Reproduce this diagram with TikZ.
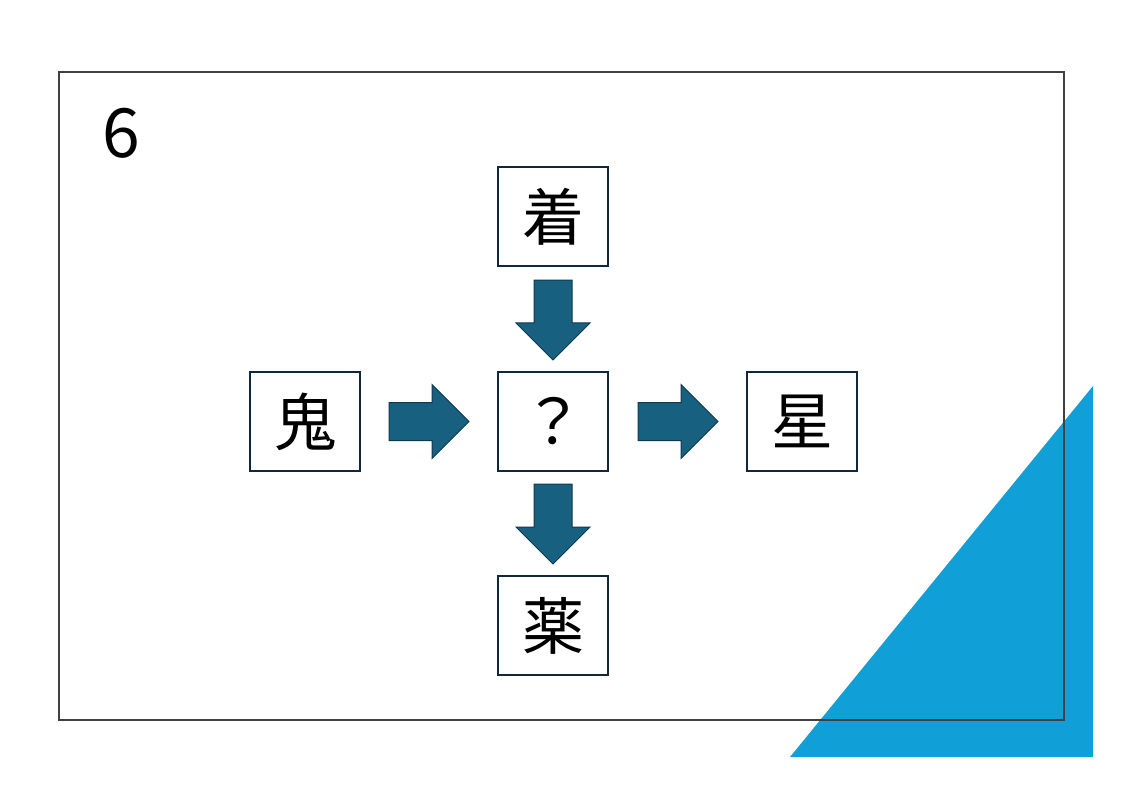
\documentclass[tikz,border=0pt]{standalone}
\usepackage{fontspec}
\setmainfont{Noto Sans CJK JP}
\usetikzlibrary{positioning,calc,shapes.arrows}
\definecolor{frameGray}{HTML}{404040}
\definecolor{triBlue}{HTML}{119FD8}
\definecolor{arrowFill}{HTML}{17607F}
\definecolor{arrowLine}{HTML}{0E3A50}
\definecolor{boxLine}{HTML}{10283A}
\begin{document}
\begin{tikzpicture}[
		x=1pt, y=-1pt,
		kanji/.style={draw=boxLine, line width=1.3pt, outer sep=0pt, minimum width=110pt, minimum height=99pt, inner sep=0pt, font=\fontsize{62}{62}\selectfont},
		blockarrow/.style={single arrow, fill=arrowFill, draw=arrowLine, line width=1pt, inner sep=18.5pt, outer sep=0pt, single arrow head extend=18pt, minimum height=80pt, anchor=tail}
		]
		
		\useasboundingbox (0,0) rectangle (1123,794);
		\fill[triBlue] (790,757) -- (1093,757) -- (1093,386) -- cycle;
		\draw[frameGray, line width=1.6pt] (59,72) rectangle (1064,720);
		
		\node (num) at (121.5,133) {\fontsize{68}{68}\selectfont 6};
		
		\node[kanji] (q) at (553,421.5) {？};
		\node[kanji, above=106pt of q] (ki) {着};
		\node[kanji, below=105pt of q] (kusuri) {薬};
		\node[kanji, left=138pt of q] (oni) {鬼};
		\node[kanji, right=139pt of q] (hoshi) {星};
		
		\node[blockarrow] (a1) at ([xshift=29pt]oni.east) {};
		\node[blockarrow] (a2) at ([xshift=30pt]q.east) {};
		\node[blockarrow, shape border rotate=270] (a3) at ([yshift=-14pt]ki.south) {};
		\node[blockarrow, shape border rotate=270] (a4) at ([yshift=-13pt]q.south) {};
		
	\end{tikzpicture}
\end{document}
